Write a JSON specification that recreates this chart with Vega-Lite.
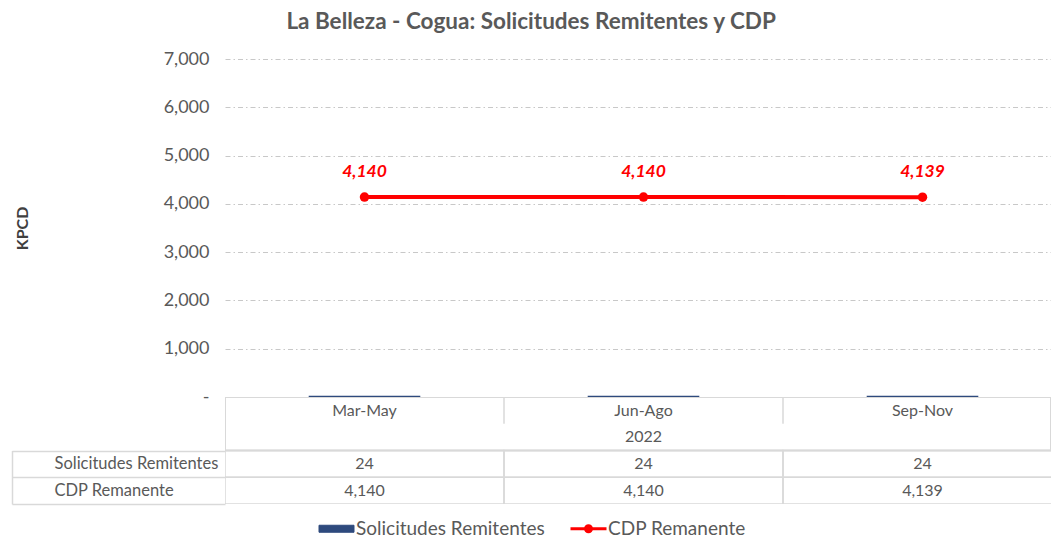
{
  "$schema": "https://vega.github.io/schema/vega-lite/v6.json",
  "background": "white",
  "padding": {"left": 11, "top": 10, "right": 0, "bottom": 0},
  "bounds": "flush",
  "spacing": 0,
  "title": {"text": "La Belleza - Cogua: Solicitudes Remitentes y CDP", "anchor": "middle", "frame": "bounds", "fontSize": 22.5, "font": "Lato", "fontWeight": "bold", "color": "#595959", "offset": 17},
  "config": {"view": {"stroke": null}, "font": "Lato"},
  "data": {"values": [
    {"periodo": "Mar-May", "anio": "2022", "serie": "Solicitudes Remitentes", "valor": 24},
    {"periodo": "Jun-Ago", "anio": "2022", "serie": "Solicitudes Remitentes", "valor": 24},
    {"periodo": "Sep-Nov", "anio": "2022", "serie": "Solicitudes Remitentes", "valor": 24},
    {"periodo": "Mar-May", "anio": "2022", "serie": "CDP Remanente", "valor": 4140},
    {"periodo": "Jun-Ago", "anio": "2022", "serie": "CDP Remanente", "valor": 4140},
    {"periodo": "Sep-Nov", "anio": "2022", "serie": "CDP Remanente", "valor": 4139}
  ]},
  "vconcat": [
    {
      "width": 826,
      "height": 338,
      "layer": [
        {
          "transform": [{"filter": "datum.serie === 'Solicitudes Remitentes'"}],
          "mark": {"type": "bar", "width": {"band": 0.4}},
          "encoding": {
            "x": {"field": "periodo", "type": "nominal", "sort": ["Mar-May", "Jun-Ago", "Sep-Nov"], "scale": {"paddingInner": 0, "paddingOuter": 0, "range": [0, 837]}, "axis": null},
            "y": {"field": "valor", "type": "quantitative", "scale": {"domain": [0, 7000], "nice": false},
              "axis": {"values": [0, 1000, 2000, 3000, 4000, 5000, 6000, 7000], "labelExpr": "datum.value === 0 ? '-' : format(datum.value, ',')", "title": "KPCD", "titleFontSize": 16, "titleFontWeight": "bold", "titleColor": "#404040", "titlePadding": 133, "labelFontSize": 18, "labelColor": "#595959", "labelPadding": 16, "ticks": false, "domain": false, "grid": true, "gridColor": {"condition": {"test": "datum.value === 0", "value": "transparent"}, "value": "#c8c8c8"}, "gridDash": [5, 3, 1.5, 3], "gridWidth": 1}},
            "color": {"field": "serie", "type": "nominal", "scale": {"domain": ["Solicitudes Remitentes", "CDP Remanente"], "range": ["#2E4A7D", "#FF0000"]},
              "legend": {"orient": "none", "legendX": 102, "legendY": 460, "direction": "horizontal", "title": null, "symbolSize": 400, "labelFontSize": 19, "labelLimit": 400, "labelColor": "#595959", "labelOffset": 10, "columnPadding": 19, "padding": 0,
                "encode": {"symbols": {"update": {
                  "shape": {"signal": "datum.value === 'CDP Remanente' ? 'M-1.8,0H1.8M0.3,0A0.3,0.3 0 1,1 -0.3,0A0.3,0.3 0 1,1 0.3,0' : 'M-1.75,-0.35H1.75V0.35H-1.75Z'"},
                  "fill": {"signal": "datum.value === 'CDP Remanente' ? '#FF0000' : '#2E4A7D'"},
                  "stroke": {"signal": "datum.value === 'CDP Remanente' ? '#FF0000' : '#1F3560'"},
                  "strokeWidth": {"signal": "datum.value === 'CDP Remanente' ? 3 : 1"},
                  "opacity": {"value": 1}
                }}}}}
          }
        },
        {
          "transform": [{"filter": "datum.serie === 'CDP Remanente'"}],
          "mark": {"type": "line", "strokeWidth": 4, "point": {"filled": true, "size": 90}},
          "encoding": {
            "x": {"field": "periodo", "type": "nominal", "sort": ["Mar-May", "Jun-Ago", "Sep-Nov"]},
            "y": {"field": "valor", "type": "quantitative"},
            "color": {"field": "serie", "type": "nominal"}
          }
        },
        {
          "transform": [{"filter": "datum.serie === 'CDP Remanente'"}],
          "mark": {"type": "text", "dy": -25, "fontSize": 17.5, "fontWeight": "bold", "fontStyle": "italic", "color": "#FF0000"},
          "encoding": {
            "x": {"field": "periodo", "type": "nominal", "sort": ["Mar-May", "Jun-Ago", "Sep-Nov"]},
            "y": {"field": "valor", "type": "quantitative"},
            "text": {"field": "valor", "type": "quantitative", "format": ","}
          }
        }
      ]
    },
    {
      "width": 826,
      "height": 107,
      "resolve": {"scale": {"y": "independent"}, "axis": {"y": "independent"}},
      "layer": [
        {
          "transform": [{"filter": "datum.serie === 'CDP Remanente'"}],
          "layer": [
            {
              "mark": {"type": "rect", "fill": "transparent", "stroke": "#d9d9d9", "strokeWidth": 1.5, "clip": true},
              "encoding": {
                "y": {"field": "anio", "type": "nominal", "scale": {"domain": ["2022"], "range": [0, 53.5], "paddingInner": 0, "paddingOuter": 0}, "axis": null}
              }
            },
            {
              "mark": {"type": "rule", "stroke": "#d9d9d9", "strokeWidth": 1.5, "clip": true},
              "encoding": {
                "x": {"field": "periodo", "type": "nominal", "sort": ["Mar-May", "Jun-Ago", "Sep-Nov"], "bandPosition": 0, "scale": {"paddingInner": 0, "paddingOuter": 0, "range": [0, 837]}, "axis": null},
                "y": {"field": "anio", "type": "nominal", "bandPosition": 0},
                "y2": {"field": "anio", "bandPosition": 0.5}
              }
            },
            {
              "mark": {"type": "text", "dy": -13, "fontSize": 16, "color": "#595959"},
              "encoding": {
                "x": {"field": "periodo", "type": "nominal", "sort": ["Mar-May", "Jun-Ago", "Sep-Nov"]},
                "y": {"field": "anio", "type": "nominal"},
                "text": {"field": "periodo"}
              }
            },
            {
              "transform": [{"filter": "datum.periodo === 'Jun-Ago'"}],
              "mark": {"type": "text", "dy": 13, "fontSize": 16, "color": "#595959"},
              "encoding": {
                "x": {"field": "periodo", "type": "nominal", "sort": ["Mar-May", "Jun-Ago", "Sep-Nov"]},
                "y": {"field": "anio", "type": "nominal"},
                "text": {"field": "anio"}
              }
            }
          ]
        },
        {
          "layer": [
            {
              "mark": {"type": "rect", "fill": "transparent", "stroke": "#d9d9d9", "strokeWidth": 1.5, "clip": true},
              "encoding": {
                "x": {"field": "periodo", "type": "nominal", "sort": ["Mar-May", "Jun-Ago", "Sep-Nov"]},
                "y": {"field": "serie", "type": "nominal", "scale": {"domain": ["Solicitudes Remitentes", "CDP Remanente"], "range": [53.5, 107], "paddingInner": 0, "paddingOuter": 0},
                  "axis": {"orient": "left", "offset": 213, "title": null, "domain": true, "domainColor": "#d9d9d9", "domainWidth": 1.5, "ticks": true, "tickSize": -213, "tickBand": "extent", "tickColor": "#d9d9d9", "tickWidth": 1.5, "labelAlign": "left", "labelPadding": 171, "labelFontSize": 16.5, "labelLimit": 300, "labelColor": "#595959", "grid": false}}
              }
            },
            {
              "mark": {"type": "text", "fontSize": 16, "color": "#595959"},
              "encoding": {
                "x": {"field": "periodo", "type": "nominal", "sort": ["Mar-May", "Jun-Ago", "Sep-Nov"]},
                "y": {"field": "serie", "type": "nominal"},
                "text": {"field": "valor", "type": "quantitative", "format": ","}
              }
            }
          ]
        }
      ]
    }
  ]
}
